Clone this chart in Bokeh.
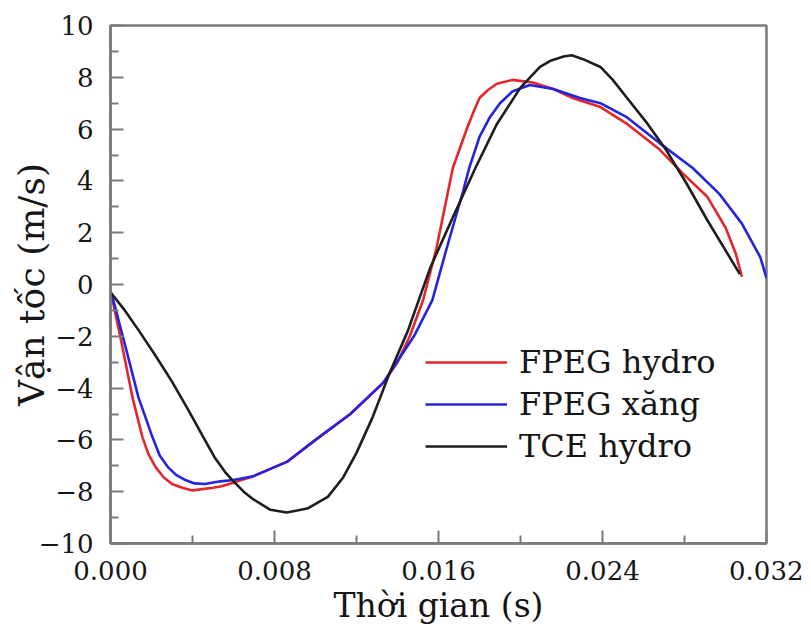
from bokeh.plotting import figure
from bokeh.models import FixedTicker, PrintfTickFormatter, Legend, LegendItem, Range1d
from bokeh.embed import file_html
from bokeh.resources import INLINE

# ---- data (time in milliseconds -> converted to seconds, velocity in m/s) ----
t_fpeg_hydro = [0.0, 0.1, 0.58, 1.07, 1.56, 1.85, 2.2, 2.6, 3.0, 3.5, 4.0, 5.0, 5.36, 6.0, 6.97,
                8.6, 10.0, 11.7, 13.3, 14.0, 14.6, 15.25, 15.9, 16.7, 17.4, 17.7, 18.0, 18.4,
                18.85, 19.6, 20.6, 21.6, 22.55, 23.9, 25.2, 26.8, 27.9, 29.1, 30.0, 30.5, 30.8]
v_fpeg_hydro = [-0.3, -0.6, -2.4, -4.35, -5.9, -6.55, -7.05, -7.45, -7.7, -7.85, -7.95, -7.85, -7.8,
                -7.65, -7.4, -6.85, -6.0, -5.0, -3.8, -3.0, -2.0, -0.6, 1.4, 4.5, 6.05, 6.65,
                7.2, 7.5, 7.75, 7.9, 7.8, 7.55, 7.2, 6.85, 6.2, 5.2, 4.3, 3.4, 2.2, 1.2, 0.3]

t_fpeg_xang = [0.0, 0.1, 0.73, 1.36, 2.05, 2.4, 2.8, 3.2, 3.65, 4.1, 4.6, 5.36, 6.0, 6.97, 8.6,
               10.0, 11.7, 13.3, 14.8, 15.7, 16.4, 17.2, 17.5, 18.0, 18.5, 19.0, 19.6, 20.45,
               21.6, 22.9, 23.9, 25.2, 26.8, 28.4, 29.7, 30.8, 31.7, 32.0]
v_fpeg_xang = [-0.3, -0.5, -2.4, -4.35, -5.9, -6.6, -7.05, -7.35, -7.55, -7.68, -7.7, -7.6, -7.55,
               -7.4, -6.85, -6.0, -5.0, -3.8, -2.0, -0.6, 1.4, 3.6, 4.5, 5.7, 6.45, 7.0, 7.45,
               7.7, 7.55, 7.2, 7.0, 6.45, 5.45, 4.5, 3.5, 2.35, 1.05, 0.25]

t_tce_hydro = [0.0, 0.7, 1.4, 2.2, 3.0, 3.8, 4.5, 5.1, 5.6, 6.0, 6.5, 6.97, 7.8, 8.6, 9.6,
               10.6, 11.35, 12.0, 12.8, 13.6, 14.5, 15.6, 16.7, 17.8, 18.85, 20.0, 20.95,
               21.5, 22.1, 22.5, 23.05, 23.9, 24.5, 25.2, 26.2, 27.1, 28.1, 29.1, 29.9, 30.7]
v_tce_hydro = [-0.3, -1.0, -1.8, -2.75, -3.75, -4.85, -5.85, -6.7, -7.25, -7.6, -8.0, -8.3, -8.7,
               -8.8, -8.65, -8.2, -7.45, -6.5, -5.1, -3.45, -1.8, 0.65, 2.6, 4.5, 6.2, 7.6, 8.4,
               8.65, 8.8, 8.85, 8.7, 8.4, 7.9, 7.2, 6.2, 5.2, 3.9, 2.5, 1.45, 0.4]

x_ticks = [0.0, 0.008, 0.016, 0.024, 0.032]
x_minor = [0.004, 0.012, 0.020, 0.028]
y_ticks = [-10, -8, -6, -4, -2, 0, 2, 4, 6, 8, 10]
y_minor = [-9, -7, -5, -3, -1, 1, 3, 5, 7, 9]

series = [
    ("FPEG hydro", t_fpeg_hydro, v_fpeg_hydro, "#e3262b"),
    ("FPEG xăng", t_fpeg_xang, v_fpeg_xang, "#2424e0"),
    ("TCE hydro", t_tce_hydro, v_tce_hydro, "#1e1e1e"),
]

FONT = "DejaVu Serif"
GRAY = "#7a7a7a"

p = figure(width=803, height=635, output_backend="svg", toolbar_location=None,
           x_range=Range1d(0, 0.032), y_range=Range1d(-10, 10),
           min_border_left=110, min_border_right=37, min_border_top=25,
           min_border_bottom=92)

items = []
for name, t, v, col in series:
    r = p.line([ti / 1000.0 for ti in t], v, line_color=col, line_width=2.6,
               line_join="round")
    items.append(LegendItem(label=name, renderers=[r]))

p.xgrid.visible = False
p.ygrid.visible = False
p.outline_line_color = GRAY
p.outline_line_width = 2.5
p.outline_line_alpha = 1.0

p.xaxis.ticker = FixedTicker(ticks=x_ticks, minor_ticks=x_minor)
p.xaxis.formatter = PrintfTickFormatter(format="%.3f")
p.yaxis.ticker = FixedTicker(ticks=y_ticks, minor_ticks=y_minor)

for ax in (p.xaxis[0], p.yaxis[0]):
    ax.axis_line_color = GRAY
    ax.axis_line_width = 2.5
    ax.major_tick_line_color = GRAY
    ax.minor_tick_line_color = GRAY
    ax.major_tick_line_width = 2
    ax.minor_tick_line_width = 2
    ax.major_tick_in = 13
    ax.major_tick_out = 0
    ax.minor_tick_in = 8
    ax.minor_tick_out = 0
    ax.major_label_text_font = FONT
    ax.major_label_text_font_size = "26px"
    ax.major_label_text_color = "#151515"
    ax.axis_label_text_font = FONT
    ax.axis_label_text_font_style = "normal"
    ax.axis_label_text_color = "#151515"

p.xaxis.axis_label = "Thời gian (s)"
p.yaxis.axis_label = "Vận tốc (m/s)"
p.xaxis.axis_label_text_font_size = "33px"
p.yaxis.axis_label_text_font_size = "36px"
p.xaxis.major_label_standoff = 17
p.yaxis.major_label_standoff = 17
p.xaxis.axis_label_standoff = 3
p.yaxis.axis_label_standoff = -16

legend = Legend(items=items, location=(315, 77),
                label_text_font=FONT, label_text_font_size="32px",
                label_text_color="#151515",
                glyph_width=82, glyph_height=40, label_height=40,
                label_standoff=12, spacing=2, padding=0, margin=0,
                border_line_alpha=0, background_fill_alpha=0)
p.add_layout(legend)

open("out.html", "w").write(file_html(p, INLINE))
